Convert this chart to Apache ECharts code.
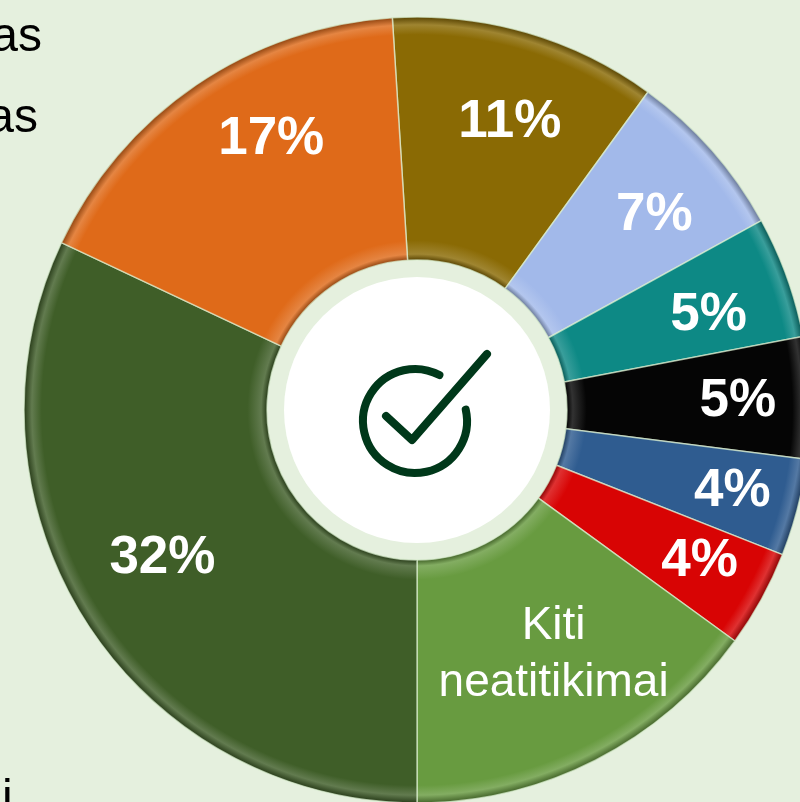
<!DOCTYPE html>
<html>
<head>
<meta charset="utf-8">
<script src="https://cdn.jsdelivr.net/npm/echarts@6/dist/echarts.min.js"></script>
<style>
  html, body { margin: 0; padding: 0; background: #e5f0de; }
  #main { width: 800px; height: 802px; }
</style>
</head>
<body>
<div id="main"></div>
<script>
// duomenys
var names = ['Kategorija 1', 'Kategorija 2', 'Kategorija 3', 'Kategorija 4', 'Kategorija 5',
             'Kategorija 6', 'Kiti\nneatitikimai', 'Kategorija 8', 'Kategorija 9'];
var values = [11, 7, 5, 5, 4, 4, 15, 32, 17];
var colors = ['#8a6a04', '#a2b9ea', '#0d8985', '#050505', '#2f5c90', '#d80404', '#689b40', '#3f5e28', '#df6a19'];
var legendBits = ['as', 'as', 'i'];

// small label nudges (like the hand-dragged labels in the original)
var labelNudge = [[6, 11], [4, 11], [-1, 11], [10, 1], [14, 4], [10, 2], [12, 0], [8, -18], [29, -13]];

var CX = 417, CY = 410, R0 = 150, R = 393;

function shade(hex, p) {
    var n = parseInt(hex.slice(1), 16);
    var r = n >> 16, g = (n >> 8) & 255, b = n & 255;
    var t = p < 0 ? 0 : 255, k = Math.abs(p);
    r = Math.round((t - r) * k + r);
    g = Math.round((t - g) * k + g);
    b = Math.round((t - b) * k + b);
    return 'rgb(' + r + ',' + g + ',' + b + ')';
}

function bevel(c) {
    var a = R0 / R;
    return {
        type: 'radial', x: CX, y: CY, r: R, global: true,
        colorStops: [
            {offset: a, color: shade(c, -0.35)},
            {offset: a + 0.015, color: shade(c, 0.18)},
            {offset: a + 0.05, color: c},
            {offset: 0.955, color: c},
            {offset: 0.98, color: shade(c, 0.18)},
            {offset: 1, color: shade(c, -0.35)}
        ]
    };
}

var mainData = values.map(function (v, i) {
    return {
        value: v, name: names[i],
        itemStyle: {color: bevel(colors[i])},
        label: {show: i === 6}
    };
});
var labelData = values.map(function (v, i) {
    return {value: v, name: names[i], label: {show: i !== 6}};
});

function nudge(p) {
    var d = labelNudge[p.dataIndex];
    return {dx: d[0], dy: d[1]};
}

var myChart = echarts.init(document.getElementById('main'));
myChart.setOption({
    backgroundColor: '#e5f0de',
    animation: false,
    series: [
        {
            type: 'pie',
            center: [CX, CY],
            radius: [R0, R],
            startAngle: 93.6,
            silent: true,
            itemStyle: {borderColor: 'rgba(220,240,210,0.7)', borderWidth: 1.5},
            label: {
                position: 'inside',
                formatter: '{b}',
                color: '#fff',
                fontFamily: 'Liberation Sans, Arial',
                fontSize: 46,
                lineHeight: 57
            },
            labelLine: {show: false},
            labelLayout: nudge,
            data: mainData
        },
        {
            type: 'pie',
            center: [CX, CY],
            radius: [223, R],
            startAngle: 93.6,
            silent: true,
            itemStyle: {color: 'rgba(0,0,0,0)'},
            label: {
                position: 'inside',
                formatter: '{c}%',
                color: '#fff',
                fontFamily: 'Liberation Sans, Arial',
                fontWeight: 'bold',
                fontSize: 53
            },
            labelLine: {show: false},
            labelLayout: nudge,
            data: labelData
        }
    ],
    graphic: [
        {type: 'circle', shape: {cx: CX, cy: CY, r: 133}, style: {fill: '#fff'}, z: 10},
        {
            type: 'arc', z: 11,
            shape: {cx: 415, cy: 421, r: 52, startAngle: -12.7 * Math.PI / 180, endAngle: 298 * Math.PI / 180, clockwise: true},
            style: {fill: 'none', stroke: '#00381a', lineWidth: 8, lineCap: 'round'}
        },
        {
            type: 'polyline', z: 11,
            shape: {points: [[386, 416], [412, 440], [487, 354]]},
            style: {fill: 'none', stroke: '#00381a', lineWidth: 8, lineCap: 'round', lineJoin: 'round'}
        },
        {type: 'text', x: 42, y: 62, style: {text: legendBits[0], textAlign: 'right', textVerticalAlign: 'bottom', fontFamily: 'Liberation Sans, Arial', fontSize: 48, fill: '#000'}},
        {type: 'text', x: 38, y: 143, style: {text: legendBits[1], textAlign: 'right', textVerticalAlign: 'bottom', fontFamily: 'Liberation Sans, Arial', fontSize: 48, fill: '#000'}},
        {type: 'text', x: 2, y: 824, style: {text: legendBits[2], textAlign: 'left', textVerticalAlign: 'bottom', fontFamily: 'Liberation Sans, Arial', fontSize: 48, fill: '#000'}}
    ]
});
</script>
</body>
</html>
